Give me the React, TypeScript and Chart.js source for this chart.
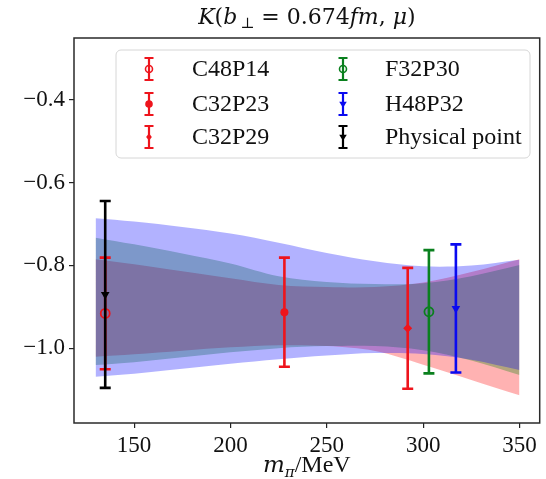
import { useEffect, useRef } from 'react';
import { Chart, registerables } from 'chart.js';

Chart.register(...registerables);

// ---- Data ----
const xTicks = [150, 200, 250, 300, 350];
const yTicks = [-1.0, -0.8, -0.6, -0.4];

const bandX = [130, 150, 175, 200, 225, 250, 275, 300, 325, 350];
const redUpper = [-0.785, -0.797, -0.814, -0.831, -0.847, -0.852, -0.852, -0.841, -0.816, -0.785];
const redLower = [-1.021, -1.015, -1.006, -0.998, -0.993, -0.995, -1.007, -1.040, -1.077, -1.114];
const greenUpper = [-0.733, -0.749, -0.771, -0.795, -0.826, -0.840, -0.845, -0.843, -0.826, -0.799];
const greenLower = [-1.041, -1.034, -1.022, -1.010, -1.000, -0.995, -0.995, -1.005, -1.030, -1.065];
const blueUpper = [-0.686, -0.694, -0.707, -0.723, -0.745, -0.770, -0.790, -0.802, -0.800, -0.786];
const blueLower = [-1.069, -1.062, -1.050, -1.038, -1.027, -1.018, -1.012, -1.014, -1.028, -1.053];

const seriesNames = ['C48P14', 'C32P23', 'C32P29', 'F32P30', 'H48P32', 'Physical point'];
const seriesX = [135, 228, 292, 303, 317, 135];
const seriesY = [-0.916, -0.913, -0.952, -0.912, -0.904, -0.870];
const seriesErr = [0.135, 0.132, 0.146, 0.149, 0.155, 0.226];

// ---- Styles ----
const RED = 'rgb(238,20,28)';
const GREEN = 'rgb(10,128,30)';
const BLUE = 'rgb(10,10,240)';
const BLACK = '#000';
const seriesColor = [RED, RED, RED, GREEN, BLUE, BLACK];
const seriesStyle = ['circleOpen', 'circle', 'diamond', 'circleOpen', 'triDown', 'triDown'];

const SERIF = '"Liberation Serif", "Times New Roman", serif';
const MATH = '"DejaVu Serif", serif';

function drawMarker(ctx: CanvasRenderingContext2D, style: string, x: number, y: number, r: number, color: string) {
  ctx.save();
  ctx.beginPath();
  if (style === 'circle' || style === 'circleOpen') {
    ctx.arc(x, y, r, 0, Math.PI * 2);
  } else if (style === 'diamond') {
    ctx.moveTo(x, y - r);
    ctx.lineTo(x + r * 0.75, y);
    ctx.lineTo(x, y + r);
    ctx.lineTo(x - r * 0.75, y);
    ctx.closePath();
  } else if (style === 'triDown') {
    ctx.moveTo(x - r, y - r * 0.6);
    ctx.lineTo(x + r, y - r * 0.6);
    ctx.lineTo(x, y + r);
    ctx.closePath();
  }
  if (style === 'circleOpen') {
    ctx.lineWidth = 1.6;
    ctx.strokeStyle = color;
    ctx.stroke();
  } else {
    ctx.fillStyle = color;
    ctx.fill();
  }
  ctx.restore();
}

function drawErrBar(ctx: CanvasRenderingContext2D, x: number, yTop: number, yBot: number, cap: number, lw: number, color: string) {
  ctx.save();
  ctx.strokeStyle = color;
  ctx.lineWidth = lw;
  ctx.beginPath();
  ctx.moveTo(x, yTop);
  ctx.lineTo(x, yBot);
  ctx.moveTo(x - cap, yTop);
  ctx.lineTo(x + cap, yTop);
  ctx.moveTo(x - cap, yBot);
  ctx.lineTo(x + cap, yBot);
  ctx.stroke();
  ctx.restore();
}

type Seg = { t: string; f: string; dy?: number };
function drawRich(ctx: CanvasRenderingContext2D, segs: Seg[], cx: number, baseline: number) {
  ctx.save();
  ctx.textBaseline = 'alphabetic';
  ctx.textAlign = 'left';
  ctx.fillStyle = '#111';
  let total = 0;
  const widths = segs.map((s) => {
    ctx.font = s.f;
    const w = ctx.measureText(s.t).width;
    total += w;
    return w;
  });
  let x = cx - total / 2;
  segs.forEach((s, i) => {
    ctx.font = s.f;
    ctx.fillText(s.t, x, baseline + (s.dy || 0));
    x += widths[i];
  });
  ctx.restore();
}

const decorPlugin = {
  id: 'decor',
  beforeDatasetDraw(chart: any, args: any) {
    const ds = chart.data.datasets[args.index];
    const si = seriesNames.indexOf(ds.label);
    if (si < 0) return;
    const xs = chart.scales.x;
    const ys = chart.scales.y;
    const ctx = chart.ctx;
    ds.data.forEach((p: any) => {
      const px = xs.getPixelForValue(p.x);
      const yT = ys.getPixelForValue(p.y + seriesErr[si]);
      const yB = ys.getPixelForValue(p.y - seriesErr[si]);
      drawErrBar(ctx, px, yT, yB, 5.5, 2.6, seriesColor[si]);
    });
  },
  afterDatasetsDraw(chart: any) {
    const ctx = chart.ctx as CanvasRenderingContext2D;
    const a = chart.chartArea;
    // frame
    ctx.save();
    ctx.strokeStyle = '#2a2a2a';
    ctx.lineWidth = 1.5;
    ctx.strokeRect(a.left, a.top, a.right - a.left, a.bottom - a.top);
    ctx.restore();

    // legend
    const bx = 116, by = 50, bw = 414, bh = 108;
    ctx.save();
    ctx.beginPath();
    ctx.roundRect(bx, by, bw, bh, 5);
    ctx.fillStyle = 'rgba(255,255,255,0.85)';
    ctx.fill();
    ctx.strokeStyle = '#d6d6d6';
    ctx.lineWidth = 1;
    ctx.stroke();
    ctx.restore();

    const colMarker = [149, 343];
    const colText = [192, 385];
    const rows = [69, 104, 137];
    seriesNames.forEach((name, i) => {
      const c = Math.floor(i / 3);
      const r = i % 3;
      const y = rows[r];
      const mx = colMarker[c];
      drawErrBar(ctx, mx, y - 11, y + 11, 4.5, 2.2, seriesColor[i]);
      drawMarker(ctx, seriesStyle[i], mx, y, seriesStyle[i] === 'circleOpen' ? 3.5 : 3.8, seriesColor[i]);
      ctx.save();
      ctx.font = `24px ${SERIF}`;
      ctx.fillStyle = '#111';
      ctx.textBaseline = 'middle';
      ctx.textAlign = 'left';
      ctx.fillText(name, colText[c], y + 1);
      ctx.restore();
    });
  },
  afterDraw(chart: any) {
    const ctx = chart.ctx as CanvasRenderingContext2D;
    const a = chart.chartArea;
    const cx = (a.left + a.right) / 2;
    drawRich(
      ctx,
      [
        { t: 'K', f: `italic 22px ${MATH}` },
        { t: '(', f: `22px ${MATH}` },
        { t: 'b', f: `italic 22px ${MATH}` },
        { t: ' ', f: `9px ${MATH}` },
        { t: '⊥', f: `15px ${MATH}`, dy: 4 },
        { t: ' = 0.674', f: `22px ${MATH}` },
        { t: 'fm', f: `italic 22px ${MATH}` },
        { t: ', ', f: `22px ${MATH}` },
        { t: 'μ', f: `italic 22px ${MATH}` },
        { t: ')', f: `22px ${MATH}` },
      ],
      cx,
      24
    );
    drawRich(
      ctx,
      [
        { t: 'm', f: `italic 23px ${MATH}` },
        { t: 'π', f: `italic 15px ${MATH}`, dy: 5 },
        { t: '/MeV', f: `24px ${SERIF}` },
      ],
      cx,
      472
    );
  },
};

function makeBand(label: string, upper: number[], lower: number[], color: string, order: number) {
  return [
    {
      type: 'line',
      label: label + ' upper',
      data: bandX.map((x, i) => ({ x, y: upper[i] })),
      fill: '+1',
      backgroundColor: color,
      borderWidth: 0,
      borderColor: 'rgba(0,0,0,0)',
      pointRadius: 0,
      tension: 0.35,
      order,
    },
    {
      type: 'line',
      label: label + ' lower',
      data: bandX.map((x, i) => ({ x, y: lower[i] })),
      fill: false,
      borderWidth: 0,
      borderColor: 'rgba(0,0,0,0)',
      pointRadius: 0,
      tension: 0.35,
      order,
    },
  ];
}

export default function App() {
  const ref = useRef<HTMLCanvasElement | null>(null);

  useEffect(() => {
    if (!ref.current) return;
    const pointDefs: any[] = seriesNames.map((name, i) => {
      const st = seriesStyle[i];
      const base: any = {
        type: 'scatter',
        label: name,
        data: [{ x: seriesX[i], y: seriesY[i] }],
        order: -1 - i,
        borderColor: seriesColor[i],
        backgroundColor: st === 'circleOpen' ? 'rgba(0,0,0,0)' : seriesColor[i],
        borderWidth: st === 'circleOpen' ? 1.8 : 0,
      };
      if (st === 'circleOpen') {
        base.pointStyle = 'circle';
        base.pointRadius = 4.5;
      } else if (st === 'circle') {
        base.pointStyle = 'circle';
        base.pointRadius = 4;
      } else if (st === 'diamond') {
        base.pointStyle = 'rectRot';
        base.pointRadius = 4.5;
      } else {
        base.pointStyle = 'triangle';
        base.rotation = 180;
        base.pointRadius = 5;
      }
      return base;
    });

    const chart = new Chart(ref.current, {
      type: 'scatter',
      data: {
        datasets: [
          ...makeBand('red', redUpper, redLower, 'rgba(255,0,0,0.3)', 3),
          ...makeBand('green', greenUpper, greenLower, 'rgba(0,128,0,0.3)', 2),
          ...makeBand('blue', blueUpper, blueLower, 'rgba(0,0,255,0.3)', 1),
          ...pointDefs,
        ] as any,
      },
      options: {
        responsive: false,
        animation: false,
        devicePixelRatio: 1,
        layout: { padding: { top: 38, right: 4, left: 0, bottom: 0 } },
        plugins: {
          legend: { display: false },
          title: { display: false },
          tooltip: { enabled: false },
        },
        scales: {
          x: {
            type: 'linear',
            min: 118.8,
            max: 360.5,
            afterBuildTicks: (s: any) => {
              s.ticks = xTicks.map((v) => ({ value: v }));
            },
            afterFit: (s: any) => {
              s.height = 56;
            },
            ticks: {
              font: { family: SERIF, size: 23 },
              color: '#111',
              padding: 4,
              maxRotation: 0,
              callback: (v: any) => String(v),
            },
            grid: { display: true, drawOnChartArea: false, drawTicks: true, tickLength: 5, color: '#222', lineWidth: 1.2 },
            border: { display: false },
          },
          y: {
            type: 'linear',
            min: -1.181,
            max: -0.25,
            afterBuildTicks: (s: any) => {
              s.ticks = yTicks.map((v) => ({ value: v }));
            },
            afterFit: (s: any) => {
              s.width = 74;
            },
            ticks: {
              font: { family: SERIF, size: 23 },
              color: '#111',
              padding: 4,
              callback: (v: any) => (v < 0 ? '\u2212' : '') + Math.abs(Number(v)).toFixed(1),
            },
            grid: { display: true, drawOnChartArea: false, drawTicks: true, tickLength: 5, color: '#222', lineWidth: 1.2 },
            border: { display: false },
          },
        },
      } as any,
      plugins: [decorPlugin],
    });
    return () => chart.destroy();
  }, []);

  return (
    <div style={{ position: 'absolute', left: 0, top: 0, width: 546, height: 479, background: '#fff' }}>
      <canvas ref={ref} width={546} height={479} style={{ display: 'block' }} />
    </div>
  );
}
